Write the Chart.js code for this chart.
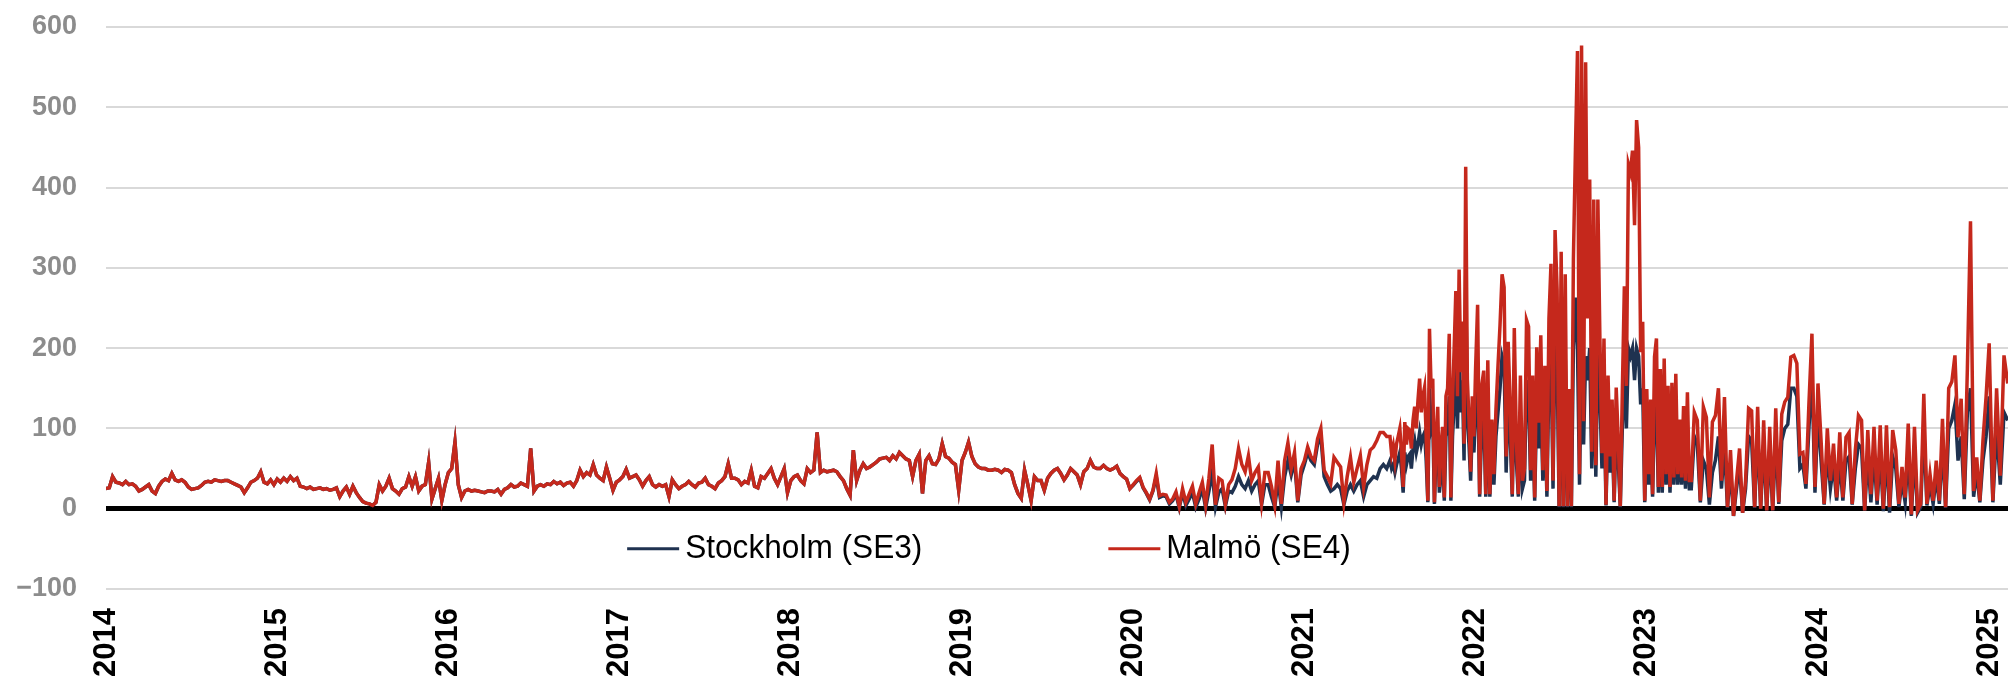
<!DOCTYPE html>
<html>
<head>
<meta charset="utf-8">
<script src="https://cdn.jsdelivr.net/npm/chart.js@4.4.1/dist/chart.umd.min.js"></script>
<style>
  html, body { margin: 0; padding: 0; background: #fff; }
  canvas { display: block; }
</style>
</head>
<body>
<canvas id="priceChart" width="2008" height="681"></canvas>
<script>
// year tick labels on the x axis
const yearLabels = ['2014','2015','2016','2017','2018','2019','2020','2021','2022','2023','2024','2025'];

// Malmö (SE4), evenly spread over each period
const se4_2014 = [25,26,40,33,32,30,34,30,31,28,22,24,27,30,22,19,28,34,37,35,44,36,34,36,33,27,24,25,26,29,33,34,33,36,35,34,35,35,33,31,29,27,20,26,33,35,38,46,33,31,36,30];
const se4_2015 = [37,33,38,34,40,35,38,28,27,25,27,24,25,26,24,25,23,24,26,15,22,27,18,28,20,14,9,7,6,4,8,30,22,28,38,25,22,18,25,27,40,28,40,22,28,30,58,12,25,38,10,30];
const se4_2016 = [45,50,83,30,14,22,24,22,23,22,21,20,22,22,21,24,18,24,26,30,27,28,32,30,28,75,22,28,30,28,31,30,34,31,33,29,32,33,28,35,48,40,45,42,55,42,38,35,52,38,23,33];
const se4_2017 = [36,40,49,38,40,42,36,28,35,40,30,27,30,28,30,15,36,30,25,28,30,34,30,27,32,33,38,30,28,25,32,35,40,56,38,38,36,30,34,32,48,28,26,40,38,44,50,38,30,40,50,20];
const se4_2018 = [35,40,42,35,31,50,45,48,95,45,48,46,47,48,46,40,35,25,17,73,35,48,56,50,52,55,58,62,63,64,60,66,62,70,66,62,60,40,60,68,19,60,66,56,55,62,81,65,63,58,55,23];
const se4_2019 = [60,70,83,65,56,52,50,50,48,48,49,48,45,49,48,45,30,19,13,48,30,10,40,35,35,23,38,44,48,50,44,36,42,50,46,42,30,46,50,60,52,50,50,54,50,48,50,53,44,40,37,25];
const se4_2020 = [30,35,39,27,20,12,23,44,16,18,17,8,12,21,3,25,8,18,28,6,20,33,5,38,80,5,38,35,6,30,36,50,75,55,46,66,35,45,52,8,45,45,28,5,60,6,60,82,50,70,10,50];
const se4_2021a = [60,77,65,60,87,100,48,40,31,64,58,52,8,40,64,33,50,66,27,55,73,77,85,95,95,90];
const se4_2021b = [90,68,78,60,81,90,100,70,27,108,80,100,98,75,110,127,100,135,162,120,140,151,90,10,224,150,162,8,90,127,27,80,102,14,140,150,218,14,136,200,271,140,298,170,233,81,426,161,111,46,140,90];
const se4_2022 = [174,254,18,153,172,18,185,18,111,43,124,178,229,292,276,65,208,128,18,225,86,18,166,35,50,235,227,48,166,14,201,107,216,48,178,22,237,305,35,347,273,3,320,3,292,3,149,3,311,448,570,43,577,109,556,237,410,71,385,54,385,212,69,212,5,166,65,136,10,151,86,3,145,277,153,429,419,446,353,484,450,195,233,10];
const se4_2023a = [149,43,136,18,189,212,27,174,27,187,43,153,27,157,39,168,43,111,39,128,35,145,35];
const se4_2023b = [35,120,110,10,127,114,14,108,116,150,35,139,2,73,-9,35,75,-5,35,125,122,2,127,0,110,-2,102,-2,125,8,118,133,139,189,191,181,68,70,31,131,218,27];
const se4_2024 = [156,85,6,100,35,81,14,95,14,89,95,6,73,116,110,-2,98,18,102,10,104,0,104,2,98,73,6,52,14,106,-7,102,-2,6,143,6,43,10,60,10,112,2,150,158,191,89,137,18,175,358,22,64,10,85,139];
const se4_2025 = [206,10,150,41,191,156];

// Stockholm (SE3): same as SE4 at this scale until 2020
const se3_2020 = [29,34,38,26,19,11,22,40,14,16,15,6,10,18,1,20,4,12,20,2,12,25,1,22,45,2,20,25,3,22,20,28,40,30,25,35,22,30,35,5,30,30,15,2,35,2,40,60,42,60,8,42];
const se3_2021a = [55,70,60,55,80,90,40,30,22,25,30,25,5,22,30,22,30,35,15,30,35,40,38,50,55,50];
const se3_2021b = [60,50,55,45,55,62,70,50,20,70,55,65,68,50,75,85,70,80,95,80,90,95,60,8,150,100,110,6,70,90,20,40,70,10,90,100,140,10,90,130,180,100,200,120,160,60,290,110,80,35,100,70];
const se3_2022 = [120,170,15,100,120,15,130,15,80,30,90,120,150,190,180,45,140,90,15,150,60,15,110,25,35,160,142,35,110,10,130,75,140,35,120,15,160,200,25,220,180,2,200,2,190,2,100,2,200,263,200,30,200,80,190,160,200,50,195,40,200,140,50,140,4,110,45,90,8,100,60,2,100,180,100,200,190,200,160,200,190,130,150,8];
const se3_2023a = [100,30,90,15,120,130,20,110,20,120,30,100,20,100,30,110,30,75,30,85,25,95,25];
const se3_2023b = [25,90,80,8,60,50,5,45,60,90,25,80,1,50,-9,25,55,-5,25,90,85,1,95,0,80,-2,75,-2,90,6,85,100,105,150,150,140,50,55,25,100,170,20];
const se3_2024 = [120,60,5,70,25,55,10,60,10,60,65,5,50,80,75,-2,65,8,70,5,70,-3,70,-5,65,50,2,35,8,70,-9,70,-5,2,100,4,30,6,40,6,80,1,100,110,130,60,90,12,120,150,15,45,8,60,90];
const se3_2025 = [140,8,100,30,120,110];

// spread a period's values evenly between two dates (decimal years)
function seg(from, to, vals) {
    return vals.map((v, i) => ({ x: from + (to - from) * i / vals.length, y: v }));
}

const se4 = [].concat(
    seg(2014, 2015, se4_2014), seg(2015, 2016, se4_2015), seg(2016, 2017, se4_2016),
    seg(2017, 2018, se4_2017), seg(2018, 2019, se4_2018), seg(2019, 2020, se4_2019),
    seg(2020, 2021, se4_2020), seg(2021, 2021.5, se4_2021a), seg(2021.5, 2022, se4_2021b),
    seg(2022, 2023, se4_2022), seg(2023, 2023.26, se4_2023a), seg(2023.26, 2024, se4_2023b),
    seg(2024, 2025, se4_2024), seg(2025, 2025.13, se4_2025)
);

const se3 = [].concat(
    seg(2014, 2015, se4_2014), seg(2015, 2016, se4_2015), seg(2016, 2017, se4_2016),
    seg(2017, 2018, se4_2017), seg(2018, 2019, se4_2018), seg(2019, 2020, se4_2019),
    seg(2020, 2021, se3_2020), seg(2021, 2021.5, se3_2021a), seg(2021.5, 2022, se3_2021b),
    seg(2022, 2023, se3_2022), seg(2023, 2023.26, se3_2023a), seg(2023.26, 2024, se3_2023b),
    seg(2024, 2025, se3_2024), seg(2025, 2025.13, se3_2025)
);

// legend drawn inside the plot, between 0 and -100
const inlineLegend = {
    id: 'inlineLegend',
    afterDatasetsDraw(chart) {
        const { ctx, chartArea: a, scales } = chart;
        const yy = scales.y.getPixelForValue(-50);
        const items = [
            { text: 'Stockholm (SE3)', color: '#1f3250', at: 0.274 },
            { text: 'Malmö (SE4)', color: '#c5281c', at: 0.527 }
        ];
        ctx.save();
        ctx.font = '34px "Liberation Sans", Arial, sans-serif';
        ctx.textBaseline = 'middle';
        ctx.textAlign = 'left';
        items.forEach(it => {
            const x0 = a.left + (a.right - a.left) * it.at;
            ctx.strokeStyle = it.color;
            ctx.lineWidth = 3;
            ctx.beginPath();
            ctx.moveTo(x0, yy);
            ctx.lineTo(x0 + 52, yy);
            ctx.stroke();
            // slightly condensed text, like the original
            ctx.save();
            ctx.translate(x0 + 58, yy);
            ctx.scale(0.93, 1);
            ctx.fillStyle = '#000';
            ctx.fillText(it.text, 0, 0);
            ctx.restore();
        });
        ctx.restore();
    }
};

Chart.defaults.font.family = '"Liberation Sans", Arial, sans-serif';

new Chart(document.getElementById('priceChart'), {
    type: 'line',
    data: {
        datasets: [
            { label: 'Stockholm (SE3)', data: se3, borderColor: '#1f3250', borderWidth: 3.5, order: 2 },
            { label: 'Malmö (SE4)', data: se4, borderColor: '#c5281c', borderWidth: 3.5, order: 1 }
        ]
    },
    options: {
        responsive: false,
        animation: false,
        layout: { padding: { top: 27, left: 0, right: 0, bottom: 0 } },
        elements: { point: { radius: 0 }, line: { tension: 0 } },
        plugins: { legend: { display: false }, tooltip: { enabled: false } },
        scales: {
            x: {
                type: 'linear',
                min: 2014,
                max: 2025.11,
                grid: { display: false },
                border: { display: false },
                afterBuildTicks: (scale) => {
                    scale.ticks = yearLabels.map(l => ({ value: Number(l) }));
                },
                afterFit: (scale) => {
                    scale.height = 92;
                    scale.paddingLeft = 0;
                    scale.paddingRight = 0;
                },
                ticks: {
                    autoSkip: false,
                    minRotation: 90,
                    maxRotation: 90,
                    padding: 11,
                    color: '#000',
                    font: { size: 31, weight: 'bold' },
                    callback: (v) => String(v)
                }
            },
            y: {
                min: -100,
                max: 600,
                afterFit: (scale) => {
                    scale.width = 106;
                    scale.paddingTop = 0;
                    scale.paddingBottom = 0;
                },
                border: { display: false },
                grid: {
                    drawTicks: false,
                    color: (c) => (c.tick && c.tick.value === 0 ? '#000' : '#d9d9d9'),
                    lineWidth: (c) => (c.tick && c.tick.value === 0 ? 5 : 2)
                },
                ticks: {
                    stepSize: 100,
                    padding: 29,
                    color: '#8c8c8c',
                    font: { size: 27, weight: 'bold' },
                    callback: (v) => (v < 0 ? '\u2212' + Math.abs(v) : String(v))
                }
            }
        }
    },
    plugins: [inlineLegend]
});
</script>
</body>
</html>
